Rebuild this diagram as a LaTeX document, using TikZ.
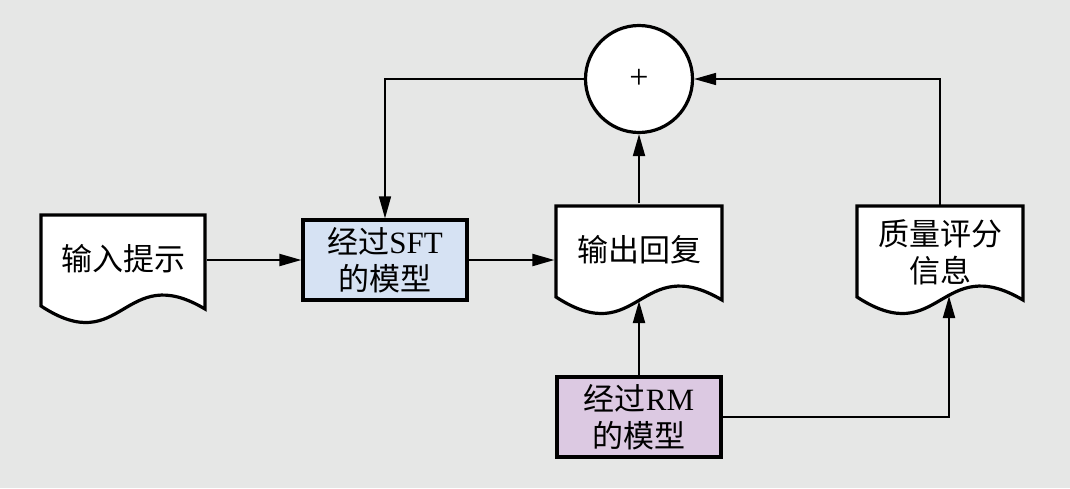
\documentclass[tikz,border=0pt]{standalone}
\usepackage{fontspec}
\setmainfont{Liberation Serif}
\newfontfamily\cjk{Noto Sans CJK SC}
\usetikzlibrary{arrows.meta}
\definecolor{bg}{RGB}{230,231,230}
\definecolor{sftfill}{RGB}{214,226,243}
\definecolor{rmfill}{RGB}{220,201,226}
\tikzset{
  box/.style={draw, line width=3.2pt, minimum width=164pt, minimum height=80pt, inner sep=0pt, align=center},
  docshape/.style={draw, line width=3.2pt, fill=white, line join=miter},
  doctext/.style={minimum width=166pt, minimum height=90pt, inner sep=0pt, outer sep=1.6pt, anchor=center, align=center},
  conn/.style={line width=2pt, -{Triangle[length=22pt,width=12pt]}},
  thinconn/.style={line width=1.6pt, -{Triangle[length=22pt,width=12pt]}},
}
\newcommand\drawdoc[3]{\draw[docshape] (#1,#2) -- ({#1+#3},#2) -- ({#1+#3},{#2+94}) .. controls ({#1+0.5*#3},{#2+45}) and ({#1+0.5*#3},{#2+145}) .. (#1,{#2+91}) -- cycle;}
\begin{document}
\begin{tikzpicture}[x=1pt, y=-1pt, font=\fontsize{31}{37}\selectfont]
\fill[bg] (0,0) rectangle (1070,488);
\useasboundingbox (0,0) rectangle (1070,488);
% documents
\drawdoc{41}{215}{164}
\node[doctext, minimum width=164pt] (inp) at (123,259) {\cjk 输入提示};
\drawdoc{556}{206}{166}
\node[doctext] (out) at (639,250) {\cjk 输出回复};
\drawdoc{857}{206}{166}
\node[doctext] (qual) at (940,252) {\cjk 质量评分\\\cjk 信息};
% boxes
\node[box, fill=sftfill] (sft) at (385,260) {{\cjk 经过}SFT\\{\cjk 的模型}};
\node[box, fill=rmfill] (rm) at (639,417) {{\cjk 经过}RM\\{\cjk 的模型}};
% sum
\node[circle, draw, line width=3.2pt, fill=white, minimum size=107pt, inner sep=0pt, font=\fontsize{34}{36}\selectfont] (sum) at (639,79) {+};
\coordinate (outbot) at (639,301);
\coordinate (qbot) at (949,296);
% connectors
\draw[conn] (inp.east |- sft.west) -- (sft.west);
\draw[conn] (sft.east) -- (sft.east -| out.west);
\draw[conn] (out.north) -- (sum.south);
\draw[conn] (rm.north) -- (outbot);
\draw[conn] (rm.east) -| (qbot);
\draw[thinconn] (qual.north) |- (sum.east);
\draw[thinconn] (sum.west) -| (sft.north);
\end{tikzpicture}
\end{document}
